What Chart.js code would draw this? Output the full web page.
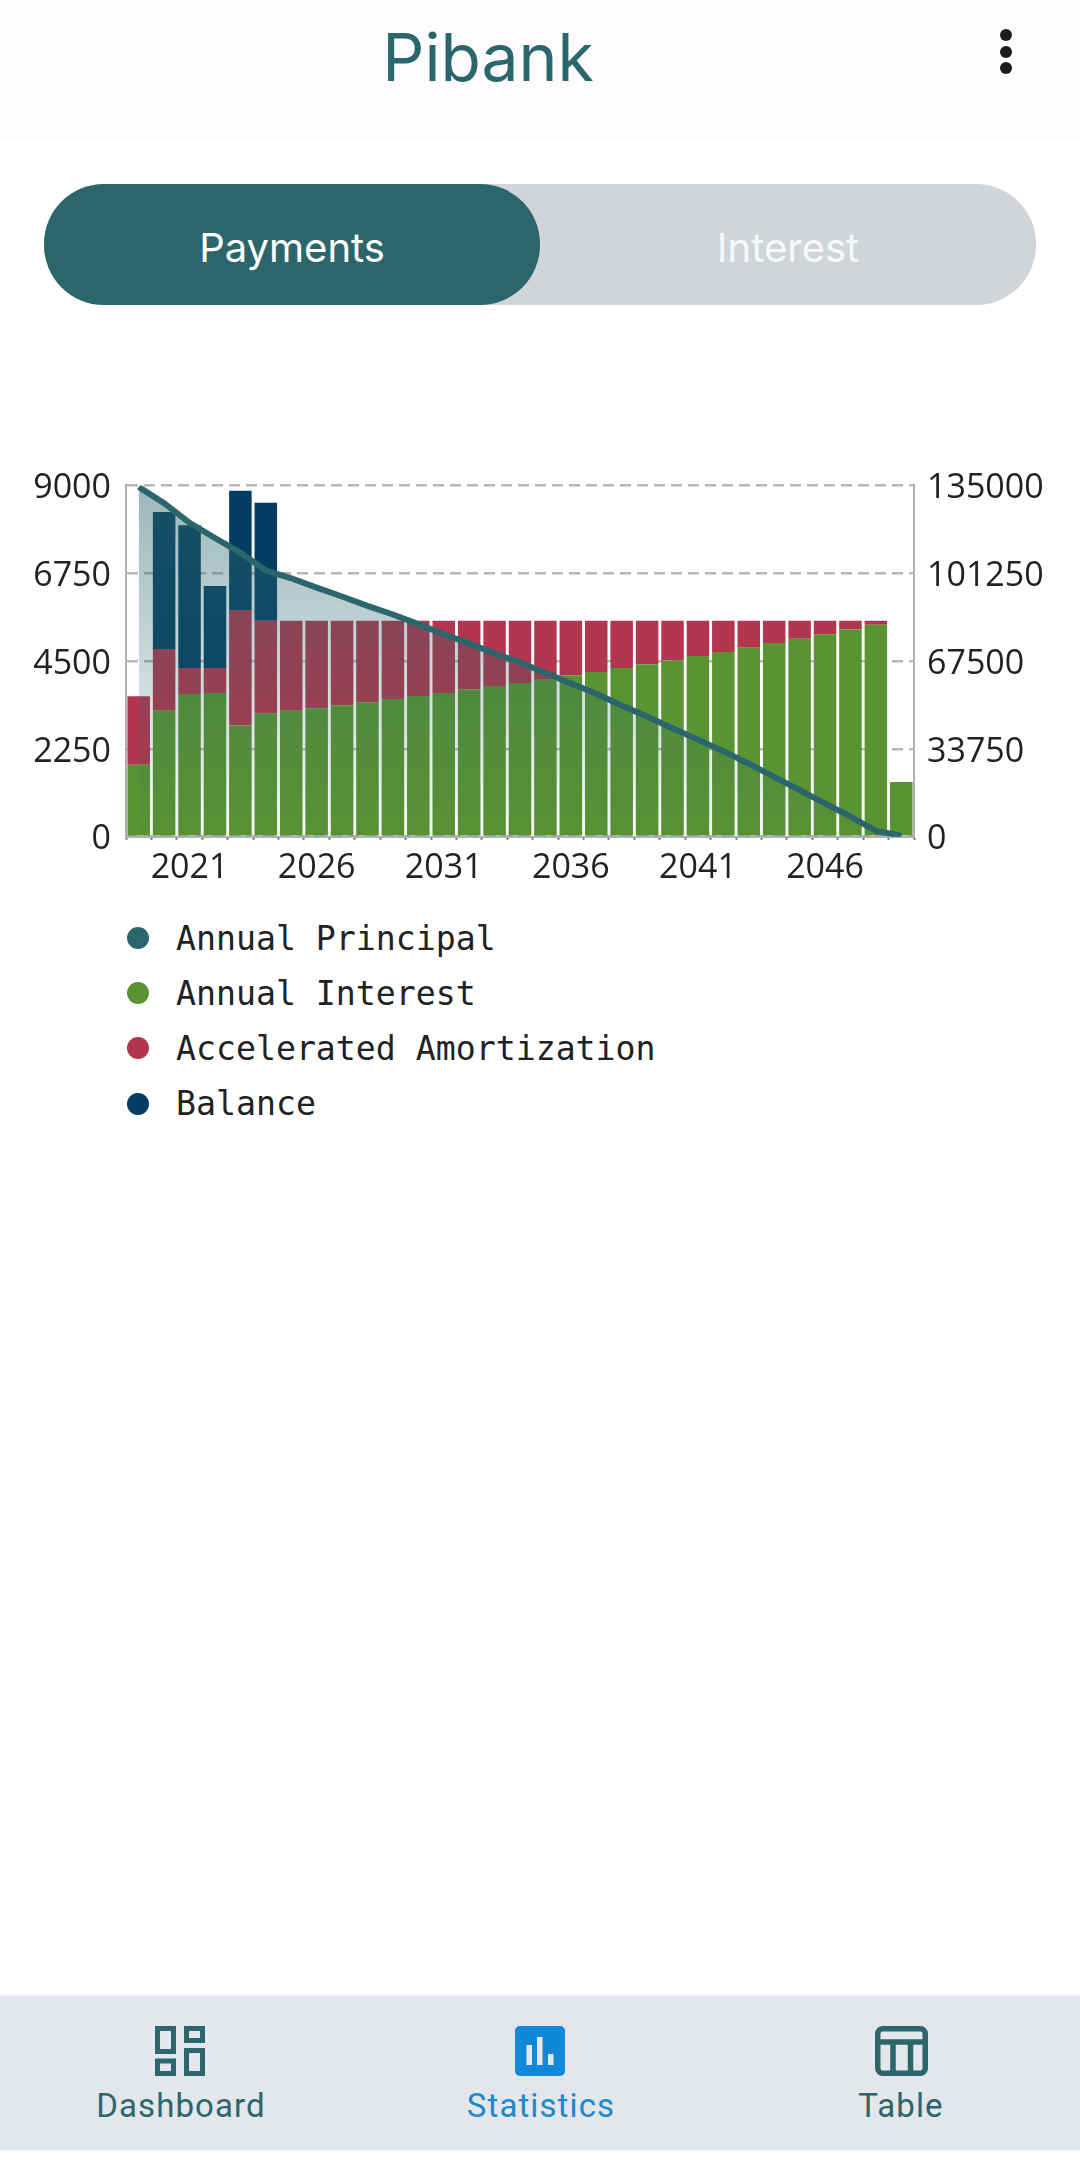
<!DOCTYPE html>
<html>
<head>
<meta charset="utf-8">
<title>Pibank</title>
<script src="https://cdn.jsdelivr.net/npm/chart.js@4"></script>
<style>
html, body { margin: 0; padding: 0; background: #fff; }
body { position: relative; width: 1080px; height: 2160px; overflow: hidden; font-family: Inter, sans-serif; }
.abs { position: absolute; }
#top { left: 0; top: 0; width: 1080px; height: 140px; background: #fdfbfe; }
#title { left: 288px; width: 400px; top: 17px; text-align: center; font-size: 66px; line-height: 80px; color: #2a666b; }
.dot { left: 1000px; width: 12px; height: 12px; border-radius: 50%; background: #1c1c20; }
#toggle { left: 44px; top: 184px; width: 992px; height: 121px; border-radius: 60px; background: #d1d5da; }
#active { left: 44px; top: 184px; width: 496px; height: 121px; border-radius: 60px; background: #2a666b; }
.tab { top: 184px; width: 496px; height: 121px; line-height: 127px; text-align: center; font-size: 40px; color: #fff; }
#chartBox { left: 0; top: 450px; width: 1080px; height: 440px; }
#legend { left: 127px; top: 910.5px; font-family: "DejaVu Sans Mono", monospace; font-size: 33.2px; color: #222; }
.row { display: flex; align-items: center; height: 55.2px; }
.row i { display: block; width: 22px; height: 22px; border-radius: 50%; margin-right: 27px; }
#nav { left: 0; top: 1996px; width: 1080px; height: 154px; background: #e3e6ea; box-shadow: 0 -1px 3px rgba(0,0,0,0.08); }
.navText { top: 2085px; font-family: Roboto, sans-serif; font-size: 33px; line-height: 42px; text-align: center; width: 300px; letter-spacing: 1.1px; color: #2a666b; }
</style>
</head>
<body>
<div class="abs" id="top"></div>
<div class="abs" id="title">Pibank</div>
<div class="abs dot" style="top:29px"></div>
<div class="abs dot" style="top:46px"></div>
<div class="abs dot" style="top:62px"></div>

<div class="abs" id="toggle"></div>
<div class="abs" id="active"></div>
<div class="abs tab" style="left:44px">Payments</div>
<div class="abs tab" style="left:540px;color:#f7f8f8">Interest</div>

<div class="abs" id="chartBox"><canvas id="chart"></canvas></div>
<div class="abs" id="legend"></div>

<div class="abs" id="nav"></div>
<svg class="abs" style="left:155px;top:2026px" width="50" height="50" fill="none" stroke="#2a666b" stroke-width="5">
  <rect x="2.5" y="2.5" width="16" height="23"/><rect x="31.5" y="2.5" width="16" height="12"/>
  <rect x="2.5" y="35" width="16" height="12.5"/><rect x="31.5" y="24.5" width="16" height="23"/>
</svg>
<svg class="abs" style="left:515px;top:2026px" width="50" height="50">
  <rect width="50" height="50" rx="5" fill="#1088da"/>
  <rect x="11.5" y="19" width="5.5" height="20" fill="#e3e6ea"/><rect x="22" y="11" width="5.5" height="28" fill="#e3e6ea"/><rect x="33" y="28" width="5.5" height="11" fill="#e3e6ea"/>
</svg>
<svg class="abs" style="left:875px;top:2026px" width="53" height="50" fill="none" stroke="#2a666b" stroke-width="5.5">
  <rect x="2.75" y="2.75" width="47.5" height="44.5" rx="5"/><path d="M2.5 16h48"/>
  <path d="M18 16v32M35.5 16v32"/>
</svg>
<div class="abs navText" style="left:31px">Dashboard</div>
<div class="abs navText" style="left:391px;color:#1c88cf">Statistics</div>
<div class="abs navText" style="left:751px">Table</div>

<script>
const years = ["2019","2020","2021","2022","2023","2024","2025","2026","2027","2028","2029","2030","2031","2032","2033","2034","2035","2036","2037","2038","2039","2040","2041","2042","2043","2044","2045","2046","2047","2048","2049"];
const shownYears = ["2021","2026","2031","2036","2041","2046"];

const annualPrincipal = [134400,128200,120600,114800,109100,102300,99300,95700,92300,88700,85400,81700,77800,74300,70400,67000,62900,59000,54900,50400,46200,41700,37300,32800,28100,23000,17900,12800,7700,2200,400];
const annualInterest = [1846,3224,3658,3684,2850,3148,3224,3292,3369,3445,3530,3607,3684,3769,3862,3939,4041,4134,4220,4322,4415,4517,4628,4730,4840,4960,5070,5189,5308,5427,1404];
const accelerated = [1752,1583,664,638,2960,2382,2306,2238,2161,2085,2000,1923,1846,1761,1668,1591,1489,1396,1310,1208,1115,1013,902,800,690,570,460,341,222,103,0];
const balance = [0,3513,3658,2101,3054,3028,0,0,0,0,0,0,0,0,0,0,0,0,0,0,0,0,0,0,0,0,0,0,0,0,0];

const leftTicks = { max: 9000, step: 2250 };
const rightTicks = { max: 135000, step: 33750 };

const teal = "#2a666b", green = "#5a9332", red = "#b2364e", navy = "#033e62";
const axisGray = "#b0b0b0", gridGray = "#b8b8b8", tickFont = { family: "'Open Sans'", size: 34 };

function principalFill(context) {
    const area = context.chart.chartArea;
    if (!area) return "rgba(42,102,107,0.3)";
    const grad = context.chart.ctx.createLinearGradient(0, area.top, 0, area.bottom);
    grad.addColorStop(0, "rgba(42,102,107,0.47)");
    grad.addColorStop(1, "rgba(42,102,107,0.04)");
    return grad;
}

const chart = new Chart(document.getElementById("chart"), {
    type: "bar",
    data: {
        labels: years,
        datasets: [
            { type: "line", label: "Annual Principal", data: annualPrincipal, yAxisID: "y1", order: 0, borderColor: teal, borderWidth: 6, backgroundColor: principalFill, fill: "origin", pointRadius: 0, tension: 0 },
            { label: "Annual Interest", data: annualInterest, yAxisID: "y", order: 1, backgroundColor: green },
            { label: "Accelerated Amortization", data: accelerated, yAxisID: "y", order: 1, backgroundColor: red },
            { label: "Balance", data: balance, yAxisID: "y", order: 1, backgroundColor: navy }
        ]
    },
    options: {
        responsive: true,
        maintainAspectRatio: false,
        animation: false,
        devicePixelRatio: 1,
        barPercentage: 0.886,
        categoryPercentage: 1,
        layout: { padding: { top: 24 } },
        plugins: { legend: { display: false }, tooltip: { enabled: false } },
        scales: {
            x: {
                stacked: true,
                afterFit: a => { a.height = 53.3; },
                border: { color: axisGray, width: 2 },
                grid: { drawOnChartArea: false, tickLength: 3, tickColor: "#666", tickWidth: 2 },
                ticks: {
                    autoSkip: false, maxRotation: 0, font: tickFont, color: "#222", padding: 8,
                    callback: function (v) { const y = this.getLabelForValue(v); return shownYears.includes(y) ? y : ""; }
                }
            },
            y: {
                stacked: true, position: "left", min: 0, max: leftTicks.max,
                afterFit: a => { a.width = 126; },
                border: { color: axisGray, width: 2, dash: [11, 6] },
                grid: { color: gridGray, lineWidth: 2.5, drawTicks: false },
                ticks: { stepSize: leftTicks.step, font: tickFont, color: "#222", padding: 15, labelOffset: 3, callback: v => String(v) }
            },
            y1: {
                position: "right", min: 0, max: rightTicks.max,
                afterFit: a => { a.width = 166; },
                border: { color: axisGray, width: 2 },
                grid: { drawOnChartArea: false, drawTicks: false },
                ticks: { stepSize: rightTicks.step, font: tickFont, color: "#222", padding: 13, labelOffset: 3, callback: v => String(v) }
            }
        }
    }
});

// legend sits under the chart one entry per row
const legendColors = [teal, green, red, navy];
chart.data.datasets.forEach((ds, i) => {
    const row = document.createElement("div");
    row.className = "row";
    row.innerHTML = '<i style="background:' + legendColors[i] + '"></i><span>' + ds.label + "</span>";
    document.getElementById("legend").appendChild(row);
});
</script>
</body>
</html>
